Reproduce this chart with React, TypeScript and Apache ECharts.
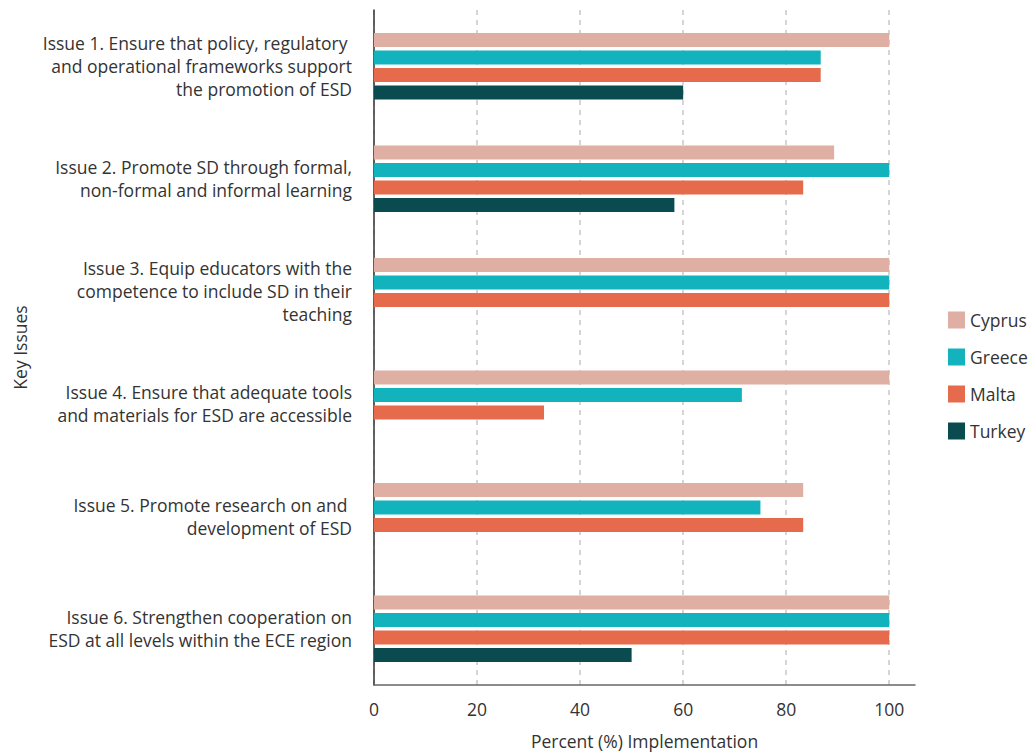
import React, { useEffect, useRef } from "react";
import * as echarts from "echarts";

const categories = [
  "Issue 1. Ensure that policy, regulatory \nand operational frameworks support\nthe promotion of ESD",
  "Issue 2. Promote SD through formal,\nnon-formal and informal learning",
  "Issue 3. Equip educators with the\ncompetence to include SD in their\nteaching",
  "Issue 4. Ensure that adequate tools\nand materials for ESD are accessible",
  "Issue 5. Promote research on and \ndevelopment of ESD",
  "Issue 6. Strengthen cooperation on\nESD at all levels within the ECE region",
];
const cyprus = [100, 89.3, 100, 100, 83.3, 100];
const greece = [86.7, 100, 100, 71.4, 75, 100];
const malta = [86.7, 83.3, 100, 33, 83.3, 100];
const turkey = [60, 58.3, null, null, null, 50];
const seriesNames = ["Cyprus", "Greece", "Malta", "Turkey"];
const colors = ["#dfafa3", "#12b3bc", "#e66b4d", "#0a4b50"];
const xTicks = [0, 20, 40, 60, 80, 100];

const FONT = "'Open Sans', 'Noto Sans', sans-serif";
const FS = 17.5;

export default function App() {
  const ref = useRef<HTMLDivElement>(null);
  useEffect(() => {
    const chart = echarts.init(ref.current!, null, { renderer: "svg" });
    const data = [cyprus, greece, malta, turkey];
    chart.setOption({
      animation: false,
      textStyle: { fontFamily: FONT },
      grid: { left: 374, top: 10, right: 118, bottom: 69, containLabel: false },
      legend: {
        orient: "vertical",
        left: 943,
        top: 306,
        itemWidth: 17,
        itemHeight: 17,
        itemGap: 19,
        icon: "rect",
        textStyle: { fontSize: FS, color: "#333", fontFamily: FONT },
        data: seriesNames,
      },
      xAxis: {
        type: "value",
        min: 0,
        max: 105,
        interval: 20,
        name: "Percent (%) Implementation",
        nameLocation: "middle",
        nameGap: 47,
        nameTextStyle: { fontSize: FS, color: "#333", fontFamily: FONT },
        axisLine: { show: true, lineStyle: { color: "#666", width: 1.5 } },
        axisTick: { show: false },
        axisLabel: {
          fontSize: FS,
          color: "#333",
          margin: 15,
          showMaxLabel: false,
          formatter: (v: number) => (xTicks.indexOf(v) >= 0 ? String(v) : ""),
        },
        splitLine: {
          show: true,
          showMaxLine: false,
          lineStyle: { color: "#c8c8c8", type: [5, 5], width: 1.5 },
        },
      },
      yAxis: {
        type: "category",
        data: categories,
        inverse: true,
        name: "Key Issues",
        nameLocation: "middle",
        nameGap: 345,
        nameRotate: 90,
        nameTextStyle: { fontSize: FS, color: "#333", fontFamily: FONT },
        axisLine: { show: true, lineStyle: { color: "#333", width: 1.5 } },
        axisTick: { show: false },
        axisLabel: {
          fontSize: FS,
          color: "#333",
          lineHeight: 23,
          margin: 22,
          align: "right",
        },
      },
      series: seriesNames.map((name, i) => ({
        name,
        type: "bar",
        data: data[i],
        barWidth: 14,
        barGap: "25%",
        itemStyle: { color: colors[i] },
      })),
    });
    return () => chart.dispose();
  }, []);
  return (
    <div
      ref={ref}
      style={{ position: "fixed", left: 0, top: 0, width: 1033, height: 755, background: "#fff" }}
    />
  );
}
